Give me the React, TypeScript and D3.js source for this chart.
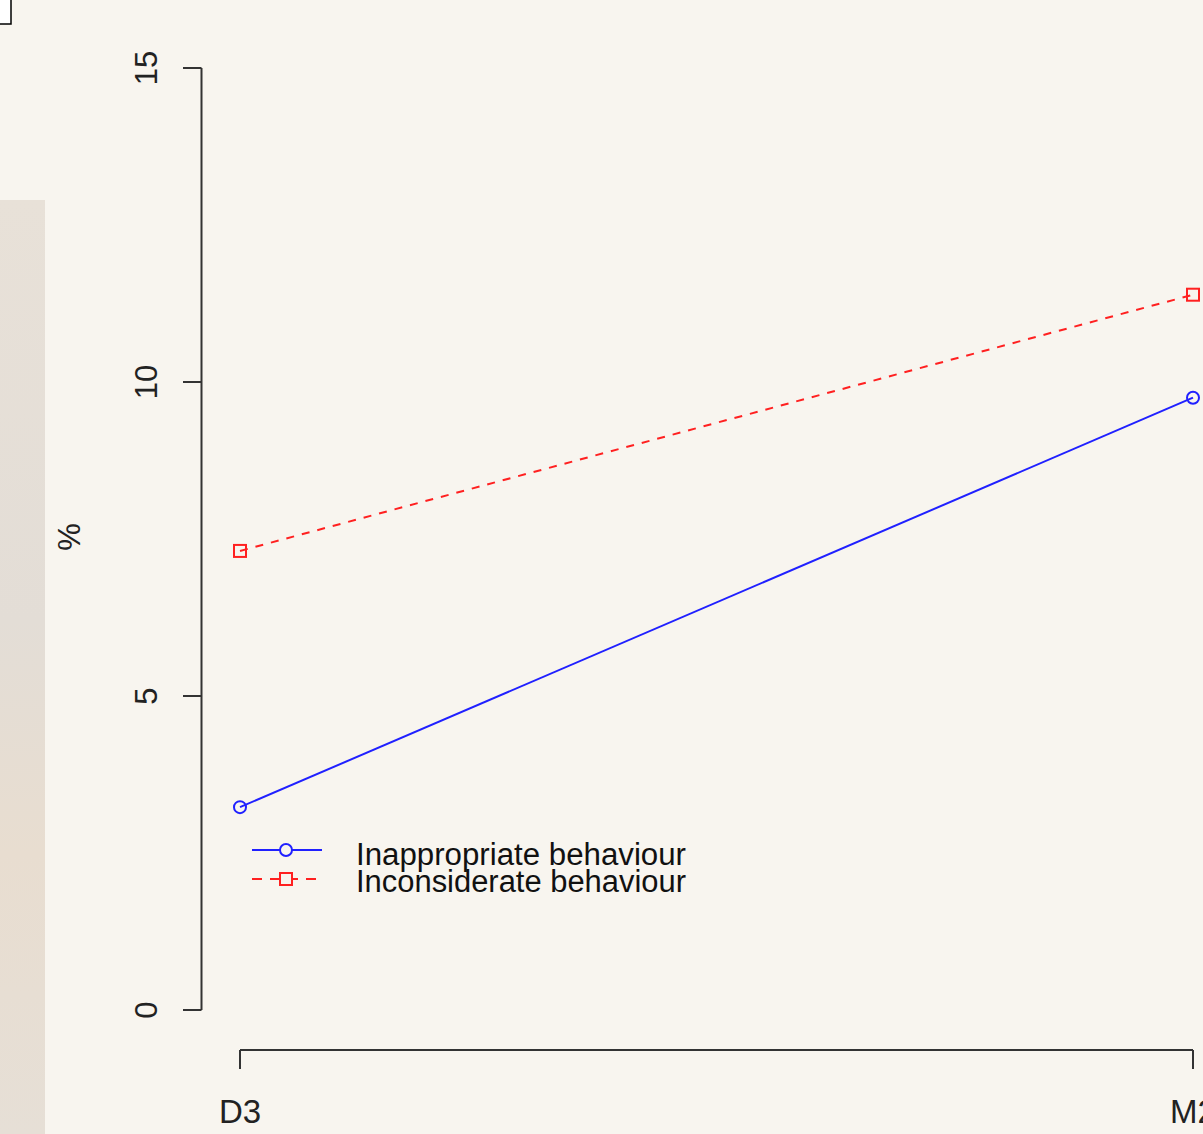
import * as d3 from "d3";

// values
const waves = ["D3", "M2"];
const inappropriate = [3.23, 9.75];
const inconsiderate = [7.31, 11.39];
const yTicks = [0, 5, 10, 15];
const seriesNames = ["Inappropriate behaviour", "Inconsiderate behaviour"];

const width = 1203;
const height = 1134;
const axisColor = "#333";
const font = "'Liberation Sans', Arial, sans-serif";

const App = () => {
  const y = d3.scaleLinear().domain([0, 15]).range([1010, 68]);
  const x = d3.scalePoint<string>().domain(waves).range([240, 1193]);

  const line = d3
    .line<number>()
    .x((_, i) => x(waves[i]) as number)
    .y((d) => y(d));

  return (
    <svg
      width={width}
      height={height}
      style={{ position: "absolute", left: 0, top: 0, background: "#f8f5ef" }}
    >
      {/* leftover bits of the page around the plot */}
      <defs>
        <linearGradient id="strip" x1="0" y1="0" x2="0" y2="1">
          <stop offset="0" stopColor="#e8e1d8" />
          <stop offset="0.45" stopColor="#e3ddd6" />
          <stop offset="0.7" stopColor="#e8ddd0" />
          <stop offset="1" stopColor="#e6dfd6" />
        </linearGradient>
      </defs>
      <rect x={0} y={200} width={45} height={934} fill="url(#strip)" />
      <rect x={-2} y={-2} width={13} height={26} fill="#fff" stroke="#000" strokeWidth={1.5} />

      {/* y axis */}
      <g stroke={axisColor} strokeWidth={2} fill="none">
        <line x1={201.5} x2={201.5} y1={y(15)} y2={y(0)} />
        {yTicks.map((t) => (
          <line key={t} x1={183} x2={201.5} y1={y(t)} y2={y(t)} />
        ))}
      </g>
      {yTicks.map((t) => (
        <text
          key={t}
          transform={`translate(157,${y(t)}) rotate(-90)`}
          textAnchor="middle"
          fontFamily={font}
          fontSize={31}
          fill="#222"
        >
          {t}
        </text>
      ))}
      <text
        transform="translate(80,537) rotate(-90)"
        textAnchor="middle"
        fontFamily={font}
        fontSize={31}
        fill="#222"
      >
        %
      </text>

      {/* x axis */}
      <g stroke={axisColor} strokeWidth={2} fill="none">
        <line x1={x("D3")} x2={x("M2")} y1={1050} y2={1050} />
        {waves.map((w) => (
          <line key={w} x1={x(w)} x2={x(w)} y1={1050} y2={1069} />
        ))}
      </g>
      {waves.map((w) => (
        <text
          key={w}
          x={x(w)}
          y={1123}
          textAnchor="middle"
          fontFamily={font}
          fontSize={33}
          fill="#222"
        >
          {w}
        </text>
      ))}

      {/* series */}
      <path d={line(inconsiderate) || ""} fill="none" stroke="#ff2020" strokeWidth={2} strokeDasharray="8 8" />
      <path d={line(inappropriate) || ""} fill="none" stroke="#2020ff" strokeWidth={2} />
      {inappropriate.map((v, i) => (
        <circle key={i} cx={x(waves[i])} cy={y(v)} r={6} fill="none" stroke="#2020ff" strokeWidth={2} />
      ))}
      {inconsiderate.map((v, i) => (
        <rect
          key={i}
          x={(x(waves[i]) as number) - 6}
          y={y(v) - 6}
          width={12}
          height={12}
          fill="none"
          stroke="#ff2020"
          strokeWidth={2}
        />
      ))}

      {/* legend */}
      <g>
        <line x1={252} x2={322} y1={850} y2={850} stroke="#2020ff" strokeWidth={2} />
        <circle cx={286} cy={850} r={6} fill="#f8f5ef" stroke="#2020ff" strokeWidth={2} />
        <line x1={252} x2={322} y1={879} y2={879} stroke="#ff2020" strokeWidth={2} strokeDasharray="10 8" />
        <rect x={280} y={873} width={12} height={12} fill="#f8f5ef" stroke="#ff2020" strokeWidth={2} />
        {seriesNames.map((n, i) => (
          <text
            key={n}
            x={356}
            y={865 + i * 27}
            fontFamily={font}
            fontSize={31}
            fill="#111"
            textLength={330}
            lengthAdjust="spacingAndGlyphs"
          >
            {n}
          </text>
        ))}
      </g>
    </svg>
  );
};

export default App;
